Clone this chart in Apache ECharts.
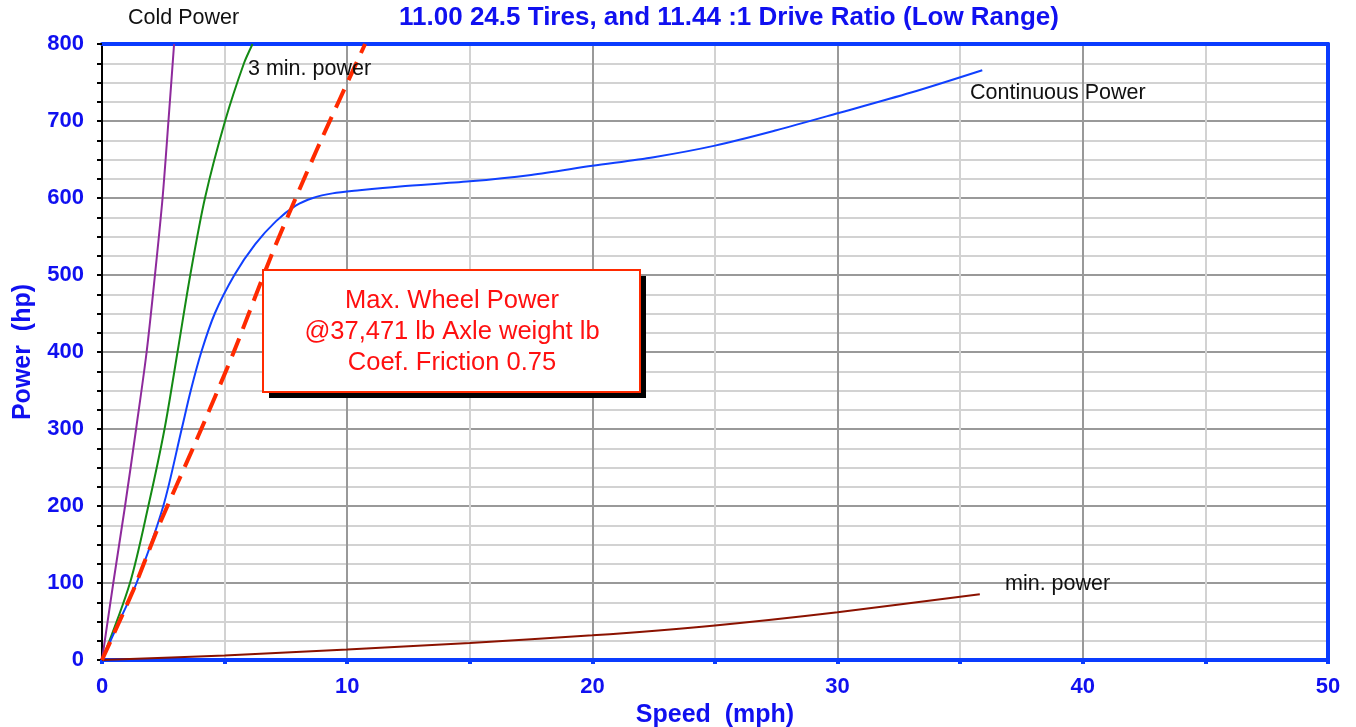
<!DOCTYPE html>
<html>
<head>
<meta charset="utf-8">
<script src="https://cdn.jsdelivr.net/npm/echarts@6/dist/echarts.min.js"></script>
<style>
  html, body { margin: 0; padding: 0; background: #fff; }
  #chart { width: 1356px; height: 727px; }
</style>
</head>
<body>
<div id="chart"></div>
<script>
// [speed mph, power hp]
const coldPower = [[0, 0], [0.46, 100], [0.94, 200], [1.39, 300], [1.82, 400], [2.16, 500], [2.47, 600], [2.71, 700], [2.94, 800]]
const threeMinPower = [[0, 0], [1.14, 100], [1.89, 200], [2.55, 300], [3.08, 400], [3.6, 500], [4.2, 600], [5.02, 700], [5.79, 775], [6.14, 800]]
const continuousPower = [[0, 0], [0.7, 50], [1.41, 100], [2.5, 200], [3.25, 300], [3.62, 350], [4.05, 400], [4.6, 450], [5.4, 500], [6.25, 540], [7.1, 570], [7.9, 590], [8.6, 600], [9.4, 606], [10.5, 610], [12.15, 615], [15, 621.6], [17.5, 630], [20, 641.8], [22.5, 653], [25, 668], [27.5, 688], [30, 710], [33, 737], [35.9, 766]]
const minPower = [[0, 0], [5, 6], [10, 13.7], [15, 22.2], [20, 32], [25, 44.9], [30, 62], [35.8, 85.5]]
const maxWheelPower = [[0, 0], [1.28, 91], [2.3, 173], [3.86, 286], [5.35, 398], [6.99, 532], [8.75, 662], [10.73, 800]]

const FONT = "'Liberation Sans', Arial, Helvetica, sans-serif"
const AXIS_BLUE = "#0a3cff"
const LABEL_BLUE = "#1010f0"

const chart = echarts.init(document.getElementById("chart"))

const curve = (name, data, color) => ({
    name: name,
    type: "line",
    data: data,
    smooth: 0.3,
    showSymbol: false,
    lineStyle: { color: color, width: 2 },
})

const option = {
    animation: false,
    backgroundColor: "#fff",
    textStyle: { fontFamily: FONT },
    grid: {
        left: 102,
        right: 28,
        top: 44,
        bottom: 67,
        outerBoundsMode: "none",
        containLabel: false,
    },
    xAxis: [
        {
            type: "value",
            min: 0,
            max: 50,
            interval: 10,
            name: "Speed  (mph)",
            nameLocation: "middle",
            nameGap: 33,
            nameTextStyle: { color: LABEL_BLUE, fontSize: 25, fontWeight: "bold", fontFamily: FONT },
            axisLine: { show: true, lineStyle: { color: AXIS_BLUE, width: 4 } },
            axisTick: { show: true, length: 4, lineStyle: { color: AXIS_BLUE, width: 4 } },
            minorTick: { show: true, splitNumber: 2, length: 4, lineStyle: { color: AXIS_BLUE, width: 4 } },
            axisLabel: { color: LABEL_BLUE, fontSize: 22, fontWeight: "bold", margin: 16, fontFamily: FONT },
            splitLine: { show: true, lineStyle: { color: "#999", width: 2 } },
            minorSplitLine: { show: true, lineStyle: { color: "#d2d2d2", width: 2 } },
        },
        {
            // top frame line
            type: "value",
            position: "top",
            min: 0,
            max: 50,
            axisLine: { show: true, onZero: false, lineStyle: { color: AXIS_BLUE, width: 4 } },
            axisTick: { show: false },
            axisLabel: { show: false },
            splitLine: { show: false },
        },
    ],
    yAxis: [
        {
            type: "value",
            min: 0,
            max: 800,
            interval: 100,
            name: "Power  (hp)",
            nameLocation: "middle",
            nameRotate: 90,
            nameGap: 66,
            nameTextStyle: { color: LABEL_BLUE, fontSize: 25, fontWeight: "bold", fontFamily: FONT },
            axisLine: { show: true, onZero: false, lineStyle: { color: "#000", width: 2 } },
            axisTick: { show: true, length: 5, lineStyle: { color: "#000", width: 2 } },
            minorTick: { show: true, splitNumber: 4, length: 5, lineStyle: { color: "#000", width: 2 } },
            axisLabel: { color: LABEL_BLUE, fontSize: 22, fontWeight: "bold", margin: 18, fontFamily: FONT },
            splitLine: { show: true, lineStyle: { color: "#999", width: 2 } },
            minorSplitLine: { show: true, lineStyle: { color: "#d2d2d2", width: 2 } },
        },
        {
            // right frame line
            type: "value",
            position: "right",
            min: 0,
            max: 800,
            axisLine: { show: true, onZero: false, lineStyle: { color: AXIS_BLUE, width: 4 } },
            axisTick: { show: false },
            axisLabel: { show: false },
            splitLine: { show: false },
        },
    ],
    series: [
        curve("Cold Power", coldPower, "#8e2a9c"),
        curve("3 min. power", threeMinPower, "#148a14"),
        curve("Continuous Power", continuousPower, "#1040ff"),
        curve("min. power", minPower, "#8b1200"),
        {
            name: "Max. Wheel Power",
            type: "line",
            data: maxWheelPower,
            smooth: 0.2,
            showSymbol: false,
            z: 3,
            lineStyle: { color: "#ff2a00", width: 4, type: [20, 10], cap: "butt" },
        },
    ],
    graphic: [
        {
            type: "text",
            x: 729,
            y: 18,
            z: 100,
            style: {
                text: "11.00 24.5 Tires, and 11.44 :1 Drive Ratio (Low Range)",
                fill: LABEL_BLUE,
                font: "bold 26px " + FONT,
                align: "center",
                verticalAlign: "middle",
            },
        },
        { type: "text", x: 128, y: 18, z: 100, style: { text: "Cold Power", fill: "#111", font: "21.5px " + FONT, verticalAlign: "middle" } },
        { type: "text", x: 248, y: 69, z: 100, style: { text: "3 min. power", fill: "#111", font: "21.5px " + FONT, verticalAlign: "middle" } },
        { type: "text", x: 970, y: 93, z: 100, style: { text: "Continuous Power", fill: "#111", font: "21.5px " + FONT, verticalAlign: "middle" } },
        { type: "text", x: 1005, y: 584, z: 100, style: { text: "min. power", fill: "#111", font: "21.5px " + FONT, verticalAlign: "middle" } },
        { type: "rect", z: 100, shape: { x: 269, y: 276, width: 377, height: 122 }, style: { fill: "#000" } },
        { type: "rect", z: 101, shape: { x: 263, y: 270, width: 377, height: 122 }, style: { fill: "#fff", stroke: "#ff2a00", lineWidth: 2 } },
        {
            type: "text",
            z: 102,
            x: 452,
            y: 332,
            style: {
                text: "Max. Wheel Power\n@37,471 lb Axle weight lb\nCoef. Friction 0.75",
                fill: "#ff1010",
                font: "25.5px " + FONT,
                lineHeight: 31,
                align: "center",
                verticalAlign: "middle",
            },
        },
    ],
}

chart.setOption(option)

window.addEventListener("resize", () => chart.resize())
</script>
</body>
</html>
